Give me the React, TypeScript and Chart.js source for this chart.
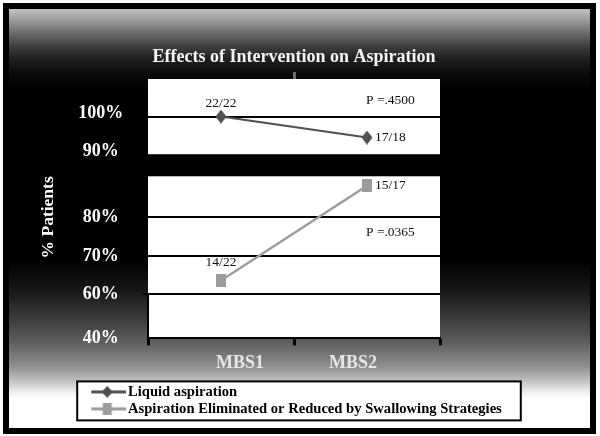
import React, { useEffect, useRef } from 'react';
import { Chart, registerables } from 'chart.js';

Chart.register(...registerables);

// ---------------- data ----------------
const categories = ['MBS1', 'MBS2'];
const seriesNames = ['Liquid aspiration', 'Aspiration Eliminated or Reduced by Swallowing Strategies'];
const liquidAspiration = [100, 94.44]; // 22/22, 17/18
const reducedByStrategies = [63.64, 88.24]; // 14/22, 15/17
const liquidCounts = ['22/22', '17/18'];
const strategyCounts = ['14/22', '15/17'];
const pValueTexts = ['P =.4500', 'P =.0365'];
const pValueLevels = [104.2, 76.1];
const upperTicks = [90, 100];
const lowerTicks = [60, 70, 80];
const baseTicks = [40];
const upperRange = [90, 110];
const lowerRange = [60, 90.7];
const baseRange = [40, 60];
const chartTitle = 'Effects of Intervention on Aspiration';
const yAxisTitle = '% Patients';

// ---------------- styles ----------------
const FONT = "'Liberation Serif', 'Times New Roman', serif";
const DARK = '#505050';
const LIGHT = '#9c9c9c';
const LABEL_SIDE = ['above', 'right'];
const ABOVE_GAP = [12.8, 17.8];
const Y_AXIS_WIDTH = 148;
// horizontal share of the category-label band: left spacer, labels, right spacer
const LABEL_BAND_WEIGHTS = [35.5, 226, 30.5];

function makeMarker(shape: string, color: string, w: number, h: number, canvasW: number, canvasH: number, lineColor?: string) {
  const c = document.createElement('canvas');
  c.width = canvasW;
  c.height = canvasH;
  const g = c.getContext('2d') as CanvasRenderingContext2D;
  const cx = canvasW / 2;
  const cy = canvasH / 2;
  if (lineColor) {
    g.fillStyle = lineColor;
    g.fillRect(0, cy - 1.5, canvasW, 3);
  }
  g.fillStyle = color;
  if (shape === 'diamond') {
    g.beginPath();
    g.moveTo(cx, cy - h / 2);
    g.lineTo(cx + w / 2, cy);
    g.lineTo(cx, cy + h / 2);
    g.lineTo(cx - w / 2, cy);
    g.closePath();
    g.fill();
  } else {
    g.fillRect(cx - w / 2, cy - h / 2, w, h);
  }
  return c;
}

const FRAME_L = 16.5;
const FRAME_R = 19;

const decorPlugin = {
  id: 'decor',
  afterLayout(chart: any) {
    const lg = chart.legend;
    if (!lg || !lg.legendHitBoxes || !lg.legendHitBoxes.length) return;
    const pad = lg.options.labels.padding;
    const widest = Math.max(...lg.legendHitBoxes.map((h: any) => h.width));
    const frameW = widest + FRAME_L + FRAME_R;
    const frameLeft = (chart.width - frameW) / 2 - 1;
    lg.left = frameLeft + FRAME_L - pad;
    lg.right = lg.left + widest + 2 * pad + 6;
    lg.width = lg.right - lg.left;
  },
  beforeDraw(chart: any) {
    const { ctx, width, height, chartArea } = chart;
    ctx.save();
    ctx.fillStyle = '#ffffff';
    ctx.fillRect(0, 0, width, height);
    ctx.fillStyle = '#000000';
    ctx.fillRect(3, 3, width - 7, height - 5);
    const top = 9;
    const bottom = height - 8;
    const g = ctx.createLinearGradient(0, top, 0, bottom);
    const stops: [number, string][] = [
      [9, '#c2c2c2'], [20, '#9c9c9c'], [33, '#6c6c6c'], [47, '#3c3c3c'], [60, '#1e1e1e'],
      [73, '#0b0b0b'], [88, '#020202'], [100, '#000000'], [258, '#000000'], [290, '#161616'],
      [316, '#383838'], [341, '#5c5c5c'], [366, '#8e8e8e'], [380, '#bdbdbd'], [392, '#eeeeee'],
      [398, '#ffffff'], [428, '#ffffff'],
    ];
    for (const [y, c] of stops) g.addColorStop(Math.min(1, Math.max(0, (y - top) / (bottom - top))), c);
    ctx.fillStyle = g;
    ctx.fillRect(9, top, width - 19, bottom - top);

    // white plot panels
    const s = chart.scales;
    ctx.fillStyle = '#ffffff';
    ctx.fillRect(chartArea.left, s.yTop.top, chartArea.right - chartArea.left, s.yTop.bottom - s.yTop.top);
    ctx.fillRect(chartArea.left, s.yLow.top, chartArea.right - chartArea.left, s.yBase.bottom - s.yLow.top);

    // legend frame
    const lg = chart.legend;
    if (lg && lg.legendHitBoxes && lg.legendHitBoxes.length) {
      const hb = lg.legendHitBoxes;
      const l = Math.min(...hb.map((h: any) => h.left)) - FRAME_L;
      const r = Math.max(...hb.map((h: any) => h.left + h.width)) + FRAME_R;
      const t = Math.min(...hb.map((h: any) => h.top)) - 3.2;
      const b = Math.max(...hb.map((h: any) => h.top + h.height)) + 4.2;
      ctx.fillStyle = '#ffffff';
      ctx.fillRect(l, t, r - l, b - t);
      ctx.strokeStyle = '#000000';
      ctx.lineWidth = 2;
      ctx.strokeRect(l, t, r - l, b - t);
    }
    ctx.restore();
  },
  afterDatasetsDraw(chart: any) {
    const { ctx } = chart;
    ctx.save();
    ctx.fillStyle = '#111111';
    ctx.font = `13.5px ${FONT}`;
    ctx.textBaseline = 'middle';
    const sets = [liquidCounts, strategyCounts];
    sets.forEach((texts, i) => {
      const meta = chart.getDatasetMeta(i);
      meta.data.forEach((pt: any, j: number) => {
        if (LABEL_SIDE[j] === 'above') {
          ctx.textAlign = 'center';
          ctx.fillText(texts[j], pt.x, pt.y - ABOVE_GAP[i]);
        } else {
          ctx.textAlign = 'left';
          ctx.fillText(texts[j], pt.x + 8, pt.y);
        }
      });
    });
    const axes = ['yTop', 'yLow'];
    ctx.textAlign = 'left';
    pValueTexts.forEach((t, i) => {
      const x = chart.scales.x.getPixelForValue(1) - 1;
      const y = chart.scales[axes[i]].getPixelForValue(pValueLevels[i]);
      ctx.fillText(t, x, y);
    });
    ctx.restore();
  },
};

export default function App() {
  const ref = useRef<HTMLCanvasElement>(null);

  useEffect(() => {
    const canvas = ref.current as HTMLCanvasElement;
    const diamond = makeMarker('diamond', DARK, 11, 14, 12, 14);
    const square = makeMarker('square', LIGHT, 10, 13, 10, 13);
    const legendSamples = [
      makeMarker('diamond', DARK, 11, 12, 38, 14, DARK),
      makeMarker('square', LIGHT, 9, 12, 38, 14, LIGHT),
    ];
    const pct = (v: any) => `${v}%`;
    const yLabelFont = { family: FONT, size: 18, weight: 'bold' as const };
    const xLabelFont = { family: FONT, size: 18, weight: 'bold' as const, lineHeight: 1.75 };
    const fixWidth = (s: any) => { s.width = Y_AXIS_WIDTH; };
    const bandAxis = (weight: number, color: string) => ({
      type: 'category',
      position: 'bottom',
      stack: 'labels',
      stackWeight: weight,
      offset: true,
      grid: { display: false, drawTicks: false },
      border: { display: false },
      ticks: { color, padding: 2.7, font: xLabelFont, maxRotation: 0, minRotation: 0, autoSkip: false },
    });

    const chart = new Chart(canvas, {
      type: 'line',
      data: {
        labels: categories,
        datasets: [
          {
            label: seriesNames[0],
            data: liquidAspiration,
            xAxisID: 'x',
            yAxisID: 'yTop',
            borderColor: DARK,
            backgroundColor: DARK,
            borderWidth: 2,
            pointStyle: diamond as any,
            pointRadius: 7,
            pointBorderWidth: 0,
          },
          {
            label: seriesNames[1],
            data: reducedByStrategies,
            xAxisID: 'x',
            yAxisID: 'yLow',
            borderColor: LIGHT,
            backgroundColor: LIGHT,
            borderWidth: 2.5,
            pointStyle: square as any,
            pointRadius: 7,
            pointBorderWidth: 0,
          },
        ],
      },
      options: {
        animation: false,
        responsive: false,
        devicePixelRatio: 1,
        events: [],
        layout: { padding: { top: 0, left: 0, right: 160, bottom: 9.8 } },
        scales: {
          x: {
            type: 'category',
            position: 'bottom',
            offset: true,
            grid: { offset: true, drawOnChartArea: false, tickLength: 7, tickWidth: 3, tickColor: '#000', color: 'transparent' },
            border: { display: true, color: '#000', width: 2 },
            ticks: { display: false },
          },
          xBandLeft: bandAxis(LABEL_BAND_WEIGHTS[0], 'transparent'),
          xLabels: bandAxis(LABEL_BAND_WEIGHTS[1], '#e6e6e6'),
          xBandRight: bandAxis(LABEL_BAND_WEIGHTS[2], 'transparent'),
          xTop: {
            type: 'category',
            position: 'top',
            offset: true,
            grid: {
              offset: true,
              drawOnChartArea: false,
              tickLength: 7,
              tickWidth: 3,
              color: 'transparent',
              tickColor: (c: any) => (c.index === 1 ? '#6a6a6a' : 'transparent'),
            },
            border: { display: false },
            ticks: { display: false },
          },
          yBase: {
            type: 'linear',
            position: 'left',
            stack: 'y',
            stackWeight: 44.3,
            min: baseRange[0],
            max: baseRange[1],
            afterFit: fixWidth,
            afterBuildTicks: (s: any) => { s.ticks = baseTicks.map((value) => ({ value })); },
            grid: { color: 'transparent', tickLength: 5, tickColor: 'transparent' },
            border: { display: true, color: '#000', width: 2 },
            ticks: { callback: pct, color: '#ffffff', font: yLabelFont, padding: 24.3, crossAlign: 'center', autoSkip: false },
          },
          yLow: {
            type: 'linear',
            position: 'left',
            stack: 'y',
            stackWeight: 119.4,
            min: lowerRange[0],
            max: lowerRange[1],
            afterFit: fixWidth,
            afterBuildTicks: (s: any) => { s.ticks = lowerTicks.map((value) => ({ value })); },
            grid: {
              color: '#000',
              lineWidth: 2,
              tickLength: 5,
              tickWidth: 2,
              tickColor: (c: any) => (c.tick && c.tick.value === lowerTicks[0] ? '#000' : 'transparent'),
            },
            border: { display: false },
            ticks: { callback: pct, color: '#ffffff', font: yLabelFont, padding: 24.3, crossAlign: 'center', autoSkip: false },
            title: {
              display: true,
              text: yAxisTitle,
              align: 'end',
              color: '#ffffff',
              font: { family: FONT, size: 17.5, weight: 'bold' },
              padding: { top: 37.5, bottom: 24.2 },
            },
          },
          yGap: {
            type: 'linear',
            position: 'left',
            stack: 'y',
            stackWeight: 22.3,
            min: 0,
            max: 1,
            afterFit: fixWidth,
            grid: { display: false },
            border: { display: false },
            ticks: { display: false },
          },
          yTop: {
            type: 'linear',
            position: 'left',
            stack: 'y',
            stackWeight: 76,
            min: upperRange[0],
            max: upperRange[1],
            afterFit: fixWidth,
            afterBuildTicks: (s: any) => { s.ticks = upperTicks.map((value) => ({ value })); },
            grid: {
              color: (c: any) => (c.tick && c.tick.value === 100 ? '#000' : 'transparent'),
              lineWidth: 2,
              tickLength: 5,
              tickColor: 'transparent',
            },
            border: { display: false },
            ticks: { callback: pct, color: '#ffffff', font: yLabelFont, padding: 19.8, crossAlign: 'center', labelOffset: -3, autoSkip: false },
          },
        } as any,
        plugins: {
          title: {
            display: true,
            text: chartTitle,
            color: '#f4f4f4',
            fullSize: false,
            font: { family: FONT, size: 18, weight: 'bold' },
            padding: { top: 46.2, bottom: 4.2 },
          },
          legend: {
            display: true,
            position: 'bottom',
            align: 'start',
            fullSize: false,
            labels: {
              usePointStyle: true,
              pointStyleWidth: 27,
              padding: 2.4,
              color: '#000',
              font: { family: FONT, size: 14.6, weight: 'bold' },
              generateLabels: (ch: any) => {
                const items = (Chart as any).defaults.plugins.legend.labels.generateLabels(ch);
                return items.map((it: any, i: number) => ({ ...it, pointStyle: legendSamples[i], fontColor: '#000' }));
              },
            },
          },
          tooltip: { enabled: false },
        },
      } as any,
      plugins: [decorPlugin],
    });
    return () => chart.destroy();
  }, []);

  return (
    <div style={{ position: 'fixed', left: 0, top: 0, width: 600, height: 436, background: '#fff' }}>
      <canvas ref={ref} width={600} height={436} style={{ display: 'block', width: 600, height: 436 }} />
    </div>
  );
}
